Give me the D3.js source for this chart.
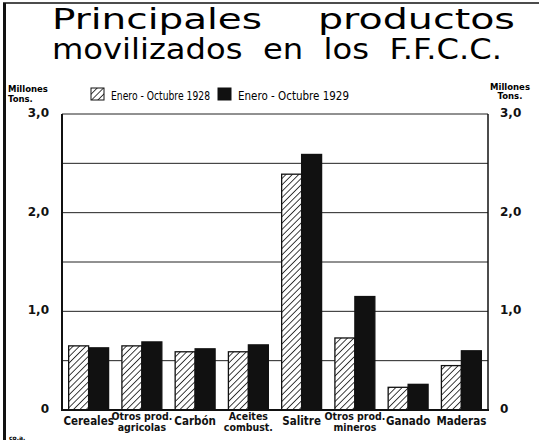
<!DOCTYPE html>
<html>
<head>
<meta charset="utf-8">
<script src="https://cdn.jsdelivr.net/npm/d3@7"></script>
<style>
  body { margin: 0; background: #fff; }
  svg { display: block; }
</style>
</head>
<body>
<svg id="chart" width="539" height="443"></svg>
<script>
const categories = [
  ["Cereales"],
  ["Otros prod.", "agricolas"],
  ["Carbón"],
  ["Aceites", "combust."],
  ["Salitre"],
  ["Otros prod.", "mineros"],
  ["Ganado"],
  ["Maderas"]
];
const seriesNames = ["Enero - Octubre 1928", "Enero - Octubre 1929"];
const values1928 = [0.65, 0.65, 0.59, 0.59, 2.39, 0.73, 0.23, 0.45];
const values1929 = [0.63, 0.69, 0.62, 0.66, 2.59, 1.15, 0.26, 0.60];
const tickLabels = [0, 1, 2, 3];
const gridValues = [0.5, 1, 1.5, 2, 2.5, 3];

const svg = d3.select("#chart");
const plot = { left: 62, right: 488, top: 114, bottom: 410 };

// hatch fill for 1928
const defs = svg.append("defs");
defs.append("pattern")
  .attr("id", "hatch")
  .attr("patternUnits", "userSpaceOnUse")
  .attr("width", 4.5)
  .attr("height", 4.5)
  .attr("patternTransform", "rotate(45)")
  .call((p) => {
    p.append("rect").attr("width", 4.5).attr("height", 4.5).attr("fill", "#fff");
    p.append("line")
      .attr("x1", 0).attr("y1", 0).attr("x2", 0).attr("y2", 4.5)
      .attr("stroke", "#111").attr("stroke-width", 1.6);
  });

const keys = categories.map((c) => c.join(" "));
const x = d3.scaleBand()
  .domain(keys)
  .range([plot.left, plot.right])
  .paddingInner(0.25)
  .paddingOuter(0.125);
const xs = d3.scaleBand().domain([0, 1]).range([0, x.bandwidth()]);
const y = d3.scaleLinear().domain([0, 3]).range([plot.bottom, plot.top]);

// frame of the page
svg.append("line").attr("x1", 3).attr("x2", 539).attr("y1", 3).attr("y2", 3)
  .attr("stroke", "#111").attr("stroke-width", 1.5);
svg.append("line").attr("x1", 4.5).attr("x2", 4.5).attr("y1", 3).attr("y2", 440)
  .attr("stroke", "#111").attr("stroke-width", 3);

// title
const titleFont = "'DejaVu Sans', sans-serif";
svg.append("text").attr("x", 52).attr("y", 29)
  .attr("font-family", titleFont).attr("font-size", 28)
  .attr("textLength", 210).attr("lengthAdjust", "spacingAndGlyphs")
  .text("Principales");
svg.append("text").attr("x", 318).attr("y", 29)
  .attr("font-family", titleFont).attr("font-size", 28)
  .attr("textLength", 197).attr("lengthAdjust", "spacingAndGlyphs")
  .text("productos");
svg.append("text").attr("x", 52).attr("y", 59)
  .attr("font-family", titleFont).attr("font-size", 28)
  .attr("textLength", 450).attr("lengthAdjust", "spacingAndGlyphs")
  .attr("xml:space", "preserve")
  .text("movilizados  en  los  F.F.C.C.");

// unit labels
const unitFont = "'DejaVu Sans', sans-serif";
svg.append("text").attr("x", 8).attr("y", 92)
  .attr("font-family", unitFont).attr("font-size", 8.5).attr("font-weight", "bold")
  .text("Millones");
svg.append("text").attr("x", 8).attr("y", 102)
  .attr("font-family", unitFont).attr("font-size", 8.5).attr("font-weight", "bold")
  .text("Tons.");
svg.append("text").attr("x", 510).attr("y", 90).attr("text-anchor", "middle")
  .attr("font-family", unitFont).attr("font-size", 8.5).attr("font-weight", "bold")
  .text("Millones");
svg.append("text").attr("x", 510).attr("y", 99).attr("text-anchor", "middle")
  .attr("font-family", unitFont).attr("font-size", 8.5).attr("font-weight", "bold")
  .text("Tons.");
svg.append("text").attr("x", 9).attr("y", 440)
  .attr("font-family", unitFont).attr("font-size", 6).attr("font-weight", "bold")
  .text("co.a.");

// legend
const legend = svg.append("g").attr("font-family", "'DejaVu Sans', sans-serif").attr("font-size", 11.5);
const legendX = [91, 218];
const legendTextW = [99, 111];
seriesNames.forEach((name, i) => {
  legend.append("rect")
    .attr("x", legendX[i]).attr("y", 88).attr("width", 13).attr("height", 12)
    .attr("fill", i === 0 ? "url(#hatch)" : "#111")
    .attr("stroke", "#111").attr("stroke-width", 1);
  legend.append("text")
    .attr("x", legendX[i] + 20).attr("y", 100)
    .attr("textLength", legendTextW[i]).attr("lengthAdjust", "spacingAndGlyphs")
    .text(name);
});

// grid
svg.append("g")
  .selectAll("line")
  .data(gridValues)
  .join("line")
  .attr("x1", plot.left).attr("x2", plot.right)
  .attr("y1", (d) => y(d)).attr("y2", (d) => y(d))
  .attr("stroke", "#222").attr("stroke-width", 1);

// bars
const rows = keys.map((k, i) => ({ key: k, vals: [values1928[i], values1929[i]] }));
svg.append("g")
  .selectAll("g")
  .data(rows)
  .join("g")
  .attr("transform", (d) => `translate(${x(d.key)},0)`)
  .selectAll("rect")
  .data((d) => d.vals.map((v, j) => ({ v, j })))
  .join("rect")
  .attr("x", (d) => xs(d.j))
  .attr("width", xs.bandwidth())
  .attr("y", (d) => y(d.v))
  .attr("height", (d) => y(0) - y(d.v))
  .attr("fill", (d) => (d.j === 0 ? "url(#hatch)" : "#111"))
  .attr("stroke", "#111")
  .attr("stroke-width", 1.3);

// axes lines
svg.append("line").attr("x1", plot.left).attr("x2", plot.left)
  .attr("y1", plot.top).attr("y2", plot.bottom + 1)
  .attr("stroke", "#111").attr("stroke-width", 2);
svg.append("line").attr("x1", plot.right).attr("x2", plot.right)
  .attr("y1", plot.top).attr("y2", plot.bottom + 1)
  .attr("stroke", "#111").attr("stroke-width", 1.5);
svg.append("line").attr("x1", plot.left - 1).attr("x2", plot.right + 1)
  .attr("y1", plot.bottom).attr("y2", plot.bottom)
  .attr("stroke", "#111").attr("stroke-width", 2);

// y tick labels, both sides
const fmt = (d) => (d === 0 ? "0" : d3.format(".1f")(d).replace(".", ","));
const yLeft = svg.append("g")
  .attr("transform", `translate(${plot.left},0)`)
  .call(d3.axisLeft(y).tickValues(tickLabels).tickFormat(fmt).tickSize(0).tickPadding(13));
const yRight = svg.append("g")
  .attr("transform", `translate(${plot.right},0)`)
  .call(d3.axisRight(y).tickValues(tickLabels).tickFormat(fmt).tickSize(0).tickPadding(12));
[yLeft, yRight].forEach((g) => {
  g.select(".domain").remove();
  g.selectAll("text")
    .attr("font-family", "'DejaVu Sans', sans-serif")
    .attr("font-size", 12)
    .attr("font-weight", "bold")
    .attr("fill", "#111")
    .attr("dy", "0.2em");
});

// category labels
const xLabels = svg.append("g")
  .attr("font-family", "'Liberation Sans Narrow', 'DejaVu Sans Condensed', sans-serif")
  .attr("font-size", 11.5)
  .attr("font-weight", "bold")
  .attr("text-anchor", "middle")
  .attr("fill", "#111");
categories.forEach((lines, i) => {
  const cx = x(keys[i]) + x.bandwidth() / 2;
  const t = xLabels.append("text").attr("x", cx);
  if (lines.length === 1) {
    t.attr("y", 425).text(lines[0]);
  } else {
    t.append("tspan").attr("x", cx).attr("y", 420).attr("font-size", 10.5).text(lines[0]);
    t.append("tspan").attr("x", cx).attr("y", 431).attr("font-size", 10.5).text(lines[1]);
  }
});
</script>
</body>
</html>
